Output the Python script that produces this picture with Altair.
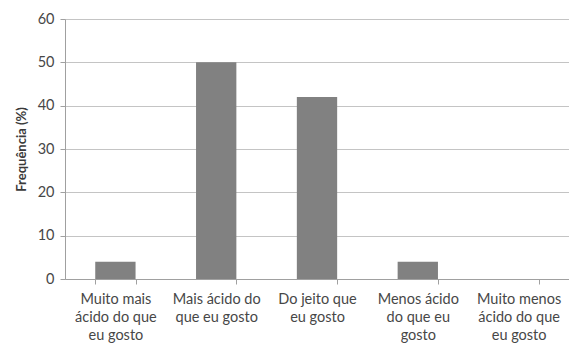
import altair as alt
import pandas as pd

categories = [
    "Muito mais|ácido do que|eu gosto",
    "Mais ácido do|que eu gosto",
    "Do jeito que|eu gosto",
    "Menos ácido|do que eu|gosto",
    "Muito menos|ácido do que|eu gosto",
]
values = [4, 50, 42, 4, 0]

df = pd.DataFrame({"cat": categories, "val": values})

FONT = "Lato"
TXT = "#474747"

chart = alt.Chart(df).mark_bar(
    color="#818181", strokeWidth=0
).encode(
    x=alt.X(
        "cat:N",
        sort=categories,
        title=None,
        scale=alt.Scale(paddingInner=0.6, paddingOuter=0.3),
        axis=alt.Axis(
            labelExpr="split(datum.label, '|')",
            labelAngle=0,
            labelFont=FONT,
            labelFontSize=14.5,
            labelColor=TXT,
            labelLineHeight=18,
            labelPadding=8,
            labelBaseline="top",
            tickBand="extent",
            tickSize=5,
            tickColor="#a0a0a0",
            domainColor="#a0a0a0",
            grid=False,
        ),
    ),
    y=alt.Y(
        "val:Q",
        title="Frequência (%)",
        scale=alt.Scale(domain=[0, 60]),
        axis=alt.Axis(
            values=[0, 10, 20, 30, 40, 50, 60],
            labelFont=FONT,
            labelFontSize=14.5,
            labelColor=TXT,
            labelPadding=6,
            titleFont=FONT,
            titleFontSize=13,
            titleFontWeight="bold",
            titleColor="#3a3a3a",
            titlePadding=9,
            tickSize=5,
            tickColor="#a0a0a0",
            domainColor="#a0a0a0",
            gridColor="#c4c4c4",
            gridWidth=1,
        ),
    ),
).properties(
    width=504,
    height=260,
    autosize=alt.AutoSizeParams(type="none"),
    padding={"left": 65, "top": 19, "right": 0, "bottom": 70},
).configure_view(stroke=None).configure(background="white")

chart.save("out.html", embed_options={"renderer": "svg", "actions": False})
